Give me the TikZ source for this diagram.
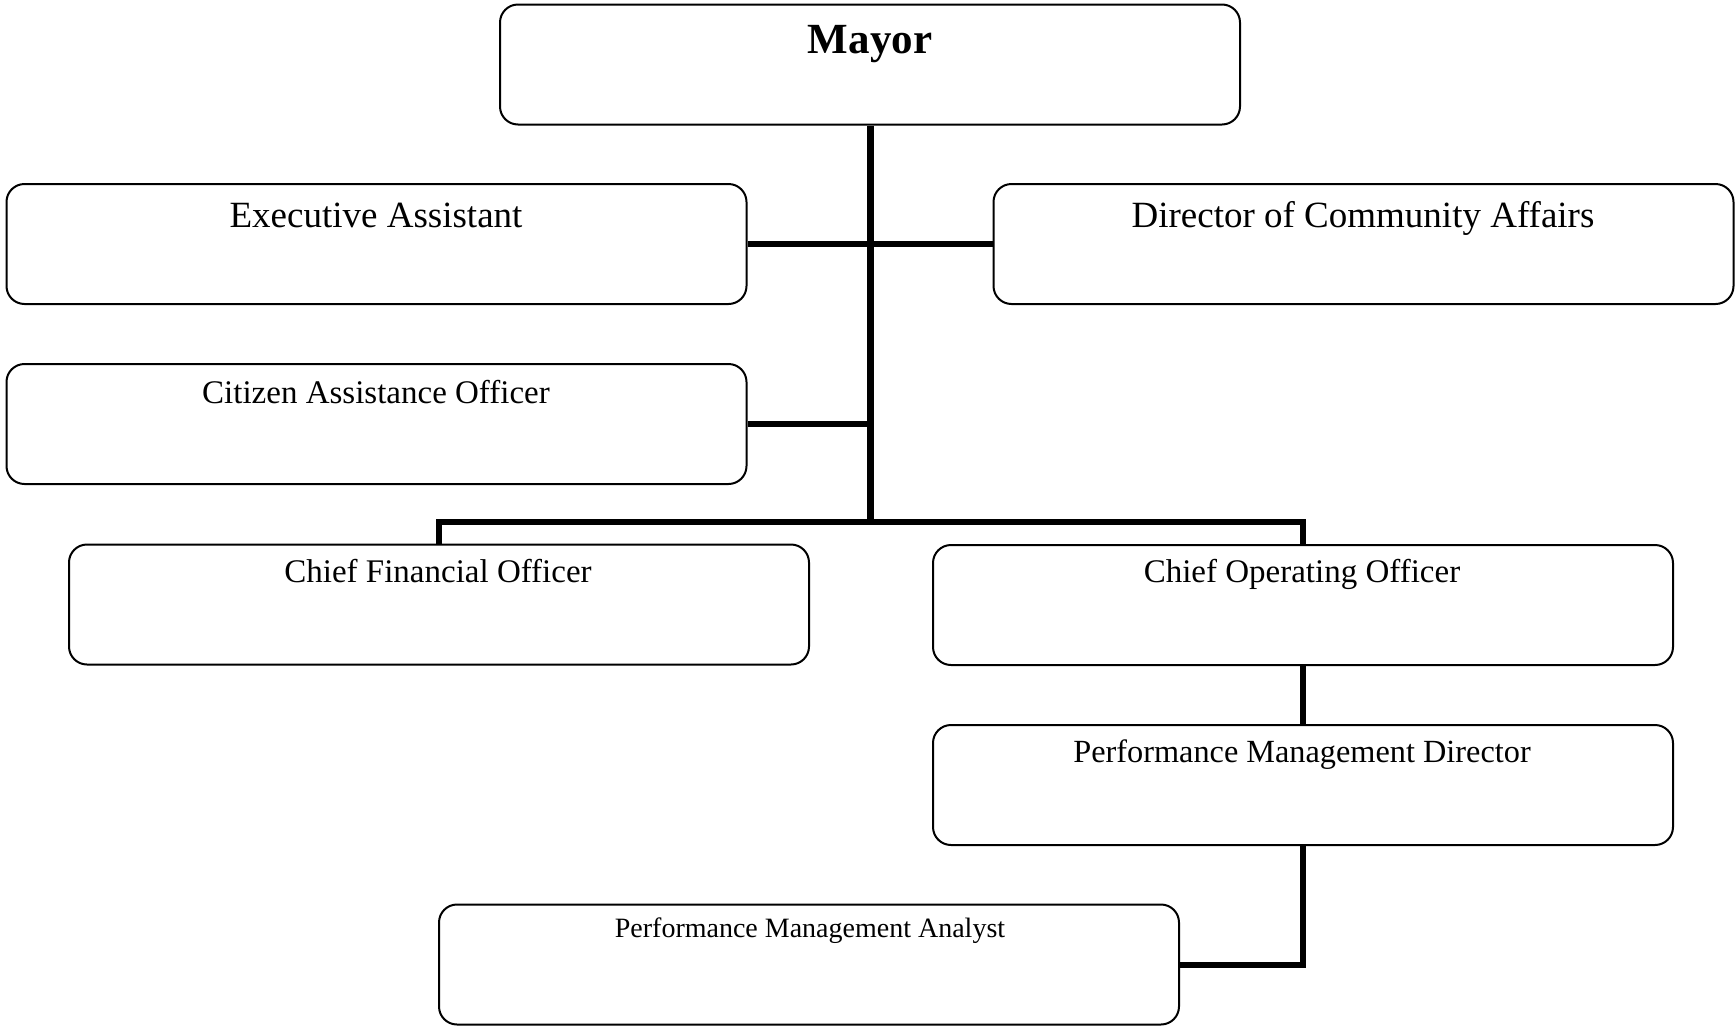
\documentclass[tikz,border=0pt]{standalone}
\usepackage{fontspec}
\setmainfont{Liberation Serif}
\begin{document}
\begin{tikzpicture}[x=1pt,y=-1pt,
  box/.style={draw, line width=2pt, rounded corners=18pt, minimum width=740pt, minimum height=120pt, inner sep=0pt},
  txt/.style={anchor=base, inner sep=0pt},
  big/.style={font=\fontsize{37}{40}\selectfont},
  mid/.style={font=\fontsize{33}{36}\selectfont},
  midsm/.style={font=\fontsize{32.3}{35}\selectfont},
  small/.style={font=\fontsize{28}{30}\selectfont},
  conn/.style={line width=6pt},
  trunk/.style={line width=7pt}]
\fill[white] (0,0) rectangle (1735,1026);
\useasboundingbox (0,0) rectangle (1735,1026);

% boxes
\node[box] (mayor) at (870,64.5) {};
\node[box] (ea)    at (376.5,244) {};
\node[box] (dca)   at (1363.5,244) {};
\node[box] (cao)   at (376.5,424) {};
\node[box] (cfo)   at (439,604.5) {};
\node[box] (coo)   at (1303,605) {};
\node[box] (pmd)   at (1303,785) {};
\node[box] (pma)   at (809,964.5) {};

% texts
\node[txt, font=\bfseries\fontsize{43}{46}\selectfont] (mayorT) at (870,53) {Mayor};
\node[txt, big] (eaT)  at (376,227) {Executive Assistant};
\node[txt, big] (dcaT) at (1363,227) {Director of Community Affairs};
\node[txt, mid] (caoT) at (376,403) {Citizen Assistance Officer};
\node[txt, mid] (cfoT) at (438,582) {Chief Financial Officer};
\node[txt, mid] (cooT) at (1302,582) {Chief Operating Officer};
\node[txt, midsm] (pmdT) at (1302,762) {Performance Management Director};
\node[txt, small] (pmaT) at (810,937) {Performance Management Analyst};

% connectors
\coordinate (j) at (870,521.5);
\draw[trunk] (mayor.south) -- (j);
\draw[conn] (ea.east) -- (dca.west);
\draw[conn] (cao.east) -- (cao.east -| mayor.south);
\draw[conn] (cfo.north) -- (cfo.north |- j) -- (coo.north |- j) -- (coo.north);
\draw[conn] (coo.south) -- (pmd.north);
\draw[conn] (pmd.south) |- (pma.east);
\end{tikzpicture}
\end{document}
